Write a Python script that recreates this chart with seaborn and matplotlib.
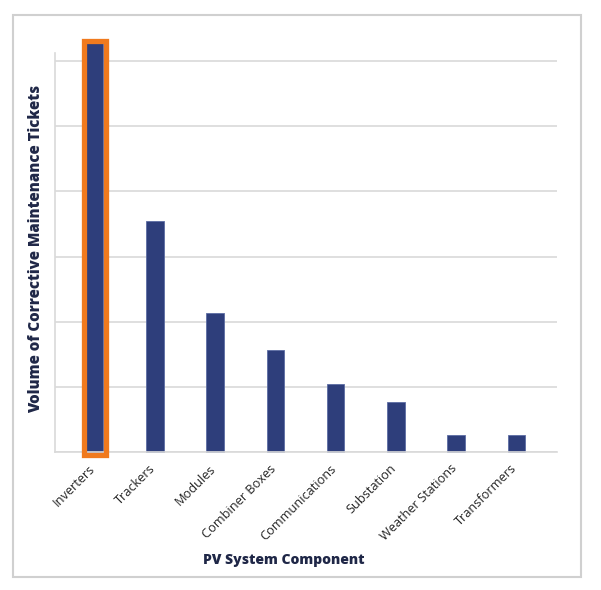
import matplotlib
matplotlib.use("Agg")
import matplotlib.pyplot as plt
import matplotlib.transforms as mtransforms
import seaborn as sns
import pandas as pd
from matplotlib.patches import Rectangle

categories = ["Inverters", "Trackers", "Modules", "Combiner Boxes",
              "Communications", "Substation", "Weather Stations", "Transformers"]
values = [6.27, 3.54, 2.13, 1.57, 1.04, 0.77, 0.26, 0.26]
highlight = "Inverters"

BAR = "#2E3E7B"
ORANGE = "#F07A1E"
TEXT = "#1F2747"
GRID = "#D9D9D9"

sns.set_theme(style="white")
plt.rcParams["font.family"] = ["Open Sans", "DejaVu Sans"]

df = pd.DataFrame({"component": categories, "tickets": values})

fig = plt.figure(figsize=(6.01, 5.90), dpi=100)
ax = fig.add_axes([55/601, 1-452.3/590, (556.7-55)/601, (452.3-53)/590])

sns.barplot(data=df, x="component", y="tickets", color=BAR, width=0.29,
            saturation=1, edgecolor="#5C6CA3", linewidth=0.6, ax=ax)

for p in ax.patches:
    p.set_clip_on(False)

ax.set_xlim(-0.66, 7.67)
ax.set_ylim(0, 6.12)
ax.set_yticks(range(0, 7))
ax.yaxis.grid(True, color=GRID, linewidth=1.2)
ax.set_axisbelow(True)
ax.tick_params(axis="y", left=False, labelleft=False)
ax.tick_params(axis="x", bottom=False, pad=1, labelsize=9.2, labelcolor="#262626")
shift = mtransforms.ScaledTranslation(-6/100, 0, fig.dpi_scale_trans)
for lbl in ax.get_xticklabels():
    lbl.set_rotation(45)
    lbl.set_ha("right")
    lbl.set_rotation_mode("anchor")
    lbl.set_transform(lbl.get_transform() + shift)

for side in ["top", "right"]:
    ax.spines[side].set_visible(False)
for side in ["left", "bottom"]:
    ax.spines[side].set_color(GRID)
    ax.spines[side].set_linewidth(1.2)

ax.set_xlabel("PV System Component", fontsize=10.0, fontweight=800,
              color=TEXT)
ax.set_ylabel("Volume of Corrective Maintenance Tickets", fontsize=10.8,
              fontweight=800, color=TEXT)
ax.xaxis.label.set_va("center")
ax.yaxis.label.set_va("center")
ax.xaxis.set_label_coords((283.5-55)/501.7, -(560-452.3)/399.3)
ax.yaxis.set_label_coords(-(55-36)/501.7, (452.3-249)/399.3)

# highlight outline around the selected bar, derived from the bar's geometry
hi = ax.patches[categories.index(highlight)]
pad_x = 0.035
pad_y = 0.035
ax.add_patch(Rectangle((hi.get_x() - pad_x, -pad_y),
                       hi.get_width() + 2*pad_x, hi.get_height() + 2*pad_y,
                       fill=False, edgecolor=ORANGE, linewidth=3.8,
                       clip_on=False, zorder=5))

fig.patches.append(Rectangle((13/601, 1-577/590), (581-13)/601, (577-15)/590,
                             transform=fig.transFigure, fill=False,
                             edgecolor="#D0D0D0", linewidth=1.5))

fig.savefig("out.png", dpi=100)
